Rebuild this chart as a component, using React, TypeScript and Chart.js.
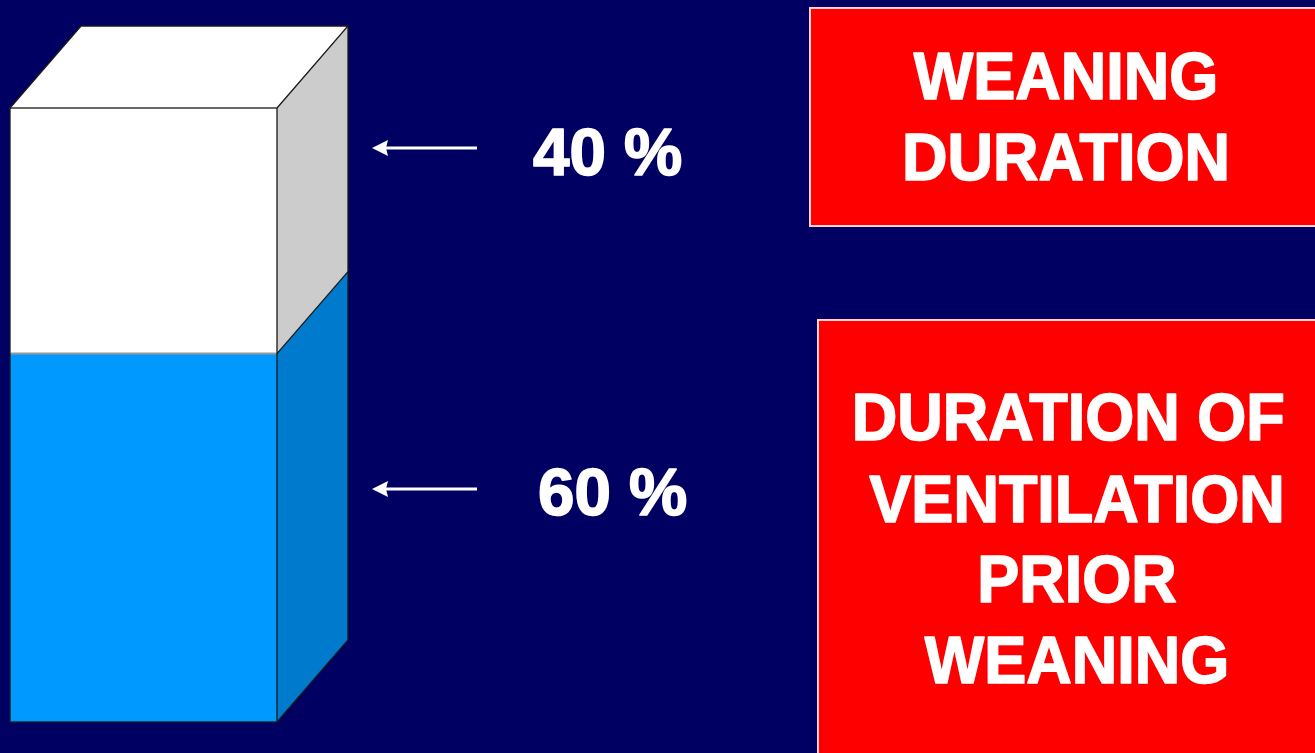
import React, { useEffect, useRef } from "react";
import { Chart, registerables } from "chart.js";

Chart.register(...registerables);

const categories = [""];
const seriesNames = ["DURATION OF VENTILATION PRIOR WEANING", "WEANING DURATION"];
const seriesNameLines = [
  ["DURATION OF ", "VENTILATION", "PRIOR", "WEANING"],
  ["WEANING", "DURATION"],
];
const ventilationValues = [60];
const weaningValues = [40];
const frontColors = ["#0099FF", "#FFFFFF"];
const sideColors = ["#007ACC", "#CCCCCC"];

const BG = "#000063";
const FONT = "bold 63px 'Liberation Sans', Arial, sans-serif";

function boldText(ctx: CanvasRenderingContext2D, text: string, x: number, y: number, sx: number) {
  ctx.save();
  ctx.translate(x, y);
  ctx.scale(sx, 1.06);
  ctx.lineJoin = "round";
  ctx.lineWidth = 1.6;
  ctx.strokeStyle = "#FFFFFF";
  ctx.strokeText(text, 0, 0);
  ctx.fillText(text, 0, 0);
  ctx.restore();
}

const bar3dPlugin = {
  id: "bar3d",
  beforeDatasetsDraw(chart: any) {
    const ctx = chart.ctx;
    const dx = 71;
    const dy = 82;
    const metas = chart.getSortedVisibleDatasetMetas();
    metas.forEach((meta: any, di: number) => {
      meta.data.forEach((el: any) => {
        const p = el.getProps(["x", "y", "base", "width"], true);
        const x1 = p.x - p.width / 2;
        const x2 = p.x + p.width / 2;
        const yTop = Math.min(p.y, p.base);
        const yBot = Math.max(p.y, p.base);
        ctx.save();
        ctx.fillStyle = sideColors[di];
        ctx.beginPath();
        ctx.moveTo(x2, yTop);
        ctx.lineTo(x2 + dx, yTop - dy);
        ctx.lineTo(x2 + dx, yBot - dy);
        ctx.lineTo(x2, yBot);
        ctx.closePath();
        ctx.fill();
        if (di === metas.length - 1) {
          ctx.fillStyle = frontColors[di];
          ctx.beginPath();
          ctx.moveTo(x1, yTop);
          ctx.lineTo(x1 + dx, yTop - dy);
          ctx.lineTo(x2 + dx, yTop - dy);
          ctx.lineTo(x2, yTop);
          ctx.closePath();
          ctx.fill();
        }
        ctx.restore();
      });
    });
  },
  afterDatasetsDraw(chart: any) {
    const ctx = chart.ctx;
    const dx = 71;
    const dy = 82;
    const metas = chart.getSortedVisibleDatasetMetas();
    let minTop = Infinity;
    let maxBot = -Infinity;
    let x1 = 0;
    let x2 = 0;
    const bounds: number[] = [];
    metas.forEach((meta: any) => {
      meta.data.forEach((el: any) => {
        const p = el.getProps(["x", "y", "base", "width"], true);
        x1 = p.x - p.width / 2;
        x2 = p.x + p.width / 2;
        const yTop = Math.min(p.y, p.base);
        const yBot = Math.max(p.y, p.base);
        minTop = Math.min(minTop, yTop);
        maxBot = Math.max(maxBot, yBot);
        bounds.push(yTop);
      });
    });
    ctx.save();
    ctx.lineWidth = 1.3;
    ctx.strokeStyle = "#1a1a1a";
    ctx.strokeRect(x1, minTop, x2 - x1, maxBot - minTop);
    ctx.beginPath();
    ctx.moveTo(x1, minTop);
    ctx.lineTo(x1 + dx, minTop - dy);
    ctx.lineTo(x2 + dx, minTop - dy);
    ctx.lineTo(x2, minTop);
    ctx.stroke();
    ctx.beginPath();
    ctx.moveTo(x2 + dx, minTop - dy);
    ctx.lineTo(x2 + dx, maxBot - dy);
    ctx.lineTo(x2, maxBot);
    ctx.stroke();
    bounds.forEach((b) => {
      if (Math.abs(b - minTop) < 0.5) return;
      ctx.strokeStyle = "#1a1a1a";
      ctx.lineWidth = 1.3;
      ctx.beginPath();
      ctx.moveTo(x2, b);
      ctx.lineTo(x2 + dx, b - dy);
      ctx.stroke();
      ctx.strokeStyle = "#999999";
      ctx.lineWidth = 2;
      ctx.beginPath();
      ctx.moveTo(x1 + 1, b);
      ctx.lineTo(x2 - 1, b);
      ctx.stroke();
    });
    ctx.restore();

    // value annotations: arrow + percentage
    const arrowY = [489, 148];
    const textX = [538, 533];
    const textBase = [515, 175];
    metas.forEach((meta: any, di: number) => {
      const v = chart.data.datasets[meta.index].data[0];
      const y = arrowY[di];
      ctx.save();
      ctx.strokeStyle = "#FFFFFF";
      ctx.fillStyle = "#FFFFFF";
      ctx.lineWidth = 3;
      ctx.beginPath();
      ctx.moveTo(x2 + 106, y);
      ctx.lineTo(x2 + 200, y);
      ctx.stroke();
      ctx.beginPath();
      ctx.moveTo(x2 + 95, y);
      ctx.lineTo(x2 + 111, y - 8);
      ctx.lineTo(x2 + 109, y);
      ctx.lineTo(x2 + 111, y + 8);
      ctx.closePath();
      ctx.fill();
      ctx.font = FONT;
      ctx.textAlign = "left";
      ctx.textBaseline = "alphabetic";
      boldText(ctx, `${v} %`, textX[di], textBase[di], 1.04);
      ctx.restore();
    });

    // series boxes
    const boxes = [
      { x: 818, y: 320, w: 520, h: 460, cx: 1077, bases: [440, 522, 602, 683] },
      { x: 810, y: 8, w: 520, h: 218, cx: 1066, bases: [99, 180] },
    ];
    metas.forEach((meta: any, di: number) => {
      const b = boxes[di];
      ctx.save();
      ctx.fillStyle = "#FF0000";
      ctx.fillRect(b.x, b.y, b.w, b.h);
      ctx.strokeStyle = "#FFD0D0";
      ctx.lineWidth = 2;
      ctx.strokeRect(b.x, b.y, b.w, b.h);
      ctx.fillStyle = "#FFFFFF";
      ctx.font = FONT;
      ctx.textAlign = "center";
      ctx.textBaseline = "alphabetic";
      seriesNameLines[meta.index].forEach((line, li) => {
        boldText(ctx, line, b.cx, b.bases[li], 1);
      });
      ctx.restore();
    });
  },
};

export default function App() {
  const ref = useRef<HTMLCanvasElement | null>(null);
  useEffect(() => {
    document.body.style.margin = "0";
    document.body.style.background = BG;
    const chart = new Chart(ref.current as HTMLCanvasElement, {
      type: "bar",
      data: {
        labels: categories,
        datasets: [
          {
            label: seriesNames[0],
            data: ventilationValues,
            backgroundColor: frontColors[0],
            borderWidth: 0,
          },
          {
            label: seriesNames[1],
            data: weaningValues,
            backgroundColor: frontColors[1],
            borderWidth: 0,
          },
        ],
      },
      options: {
        responsive: false,
        animation: false,
        layout: { padding: { left: 10, right: 1038, top: 108, bottom: 31 } },
        datasets: { bar: { barPercentage: 1, categoryPercentage: 1 } },
        scales: {
          x: { stacked: true, display: false },
          y: { stacked: true, display: false, min: 0, max: 100 },
        },
        plugins: { legend: { display: false }, tooltip: { enabled: false } },
      },
      plugins: [bar3dPlugin],
    });
    return () => chart.destroy();
  }, []);
  return (
    <div style={{ position: "fixed", left: 0, top: 0, width: 1315, height: 753, background: BG }}>
      <canvas ref={ref} width={1315} height={753} style={{ display: "block" }} />
    </div>
  );
}
